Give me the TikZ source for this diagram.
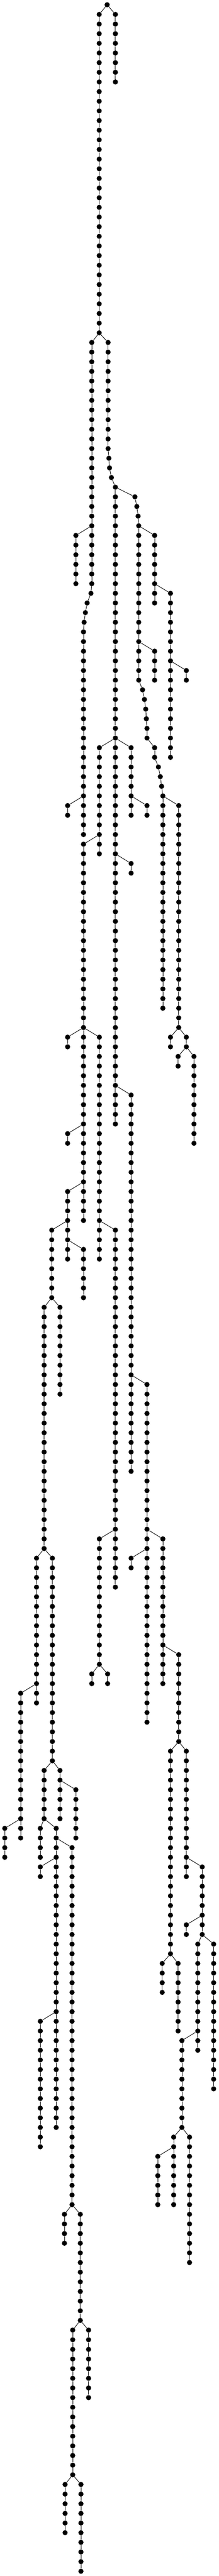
\documentclass[tikz,border=0pt]{standalone}
\begin{document}
\begin{tikzpicture}[x=0.16667pt, y=-10.1335pt,
    dot/.style={circle, fill=black, inner sep=0pt, minimum size=5.4pt},
    link/.style={line width=0.5pt}]
\useasboundingbox (0,-0.4934) rectangle (1377,266.4916);

\node[dot] (r-0) at (675,0) {};

% branch name / column / first level / last level / parent node
\foreach \nm/\u/\a/\b/\p in {
    A/625/1/34/r-0, B/727/1/8/r-0,
    C/578/35/60/A-34, C/573/61/61/C-60, C/549/62/62/C-61, C/538/63/63/C-62,
    C/530/64/64/C-63, C/526/65/86/C-64,
    D/478/55/60/C-54,
    E/681/35/46/A-34, E/686/47/47/E-46, E/690/48/48/E-47, E/702/49/49/E-48,
    E/727/50/116/E-49,
    F/850/51/51/E-50, F/862/52/52/F-51, F/870/53/53/F-52, F/874/54/70/F-53,
    F/898/71/71/F-70, F/910/72/72/F-71, F/918/73/73/F-72, F/922/74/74/F-73,
    F/926/75/76/F-74, F/974/77/78/F-76, F/998/79/79/F-78, F/1010/80/80/F-79,
    F/1018/81/81/F-80, F/1026/82/104/F-81,
    G/974/55/62/F-54, H/1074/61/78/G-60, I/1174/69/70/H-68, J/974/67/70/F-66,
    K/426/83/84/C-82, L/626/77/88/E-76, M/526/87/126/L-86, N/826/77/84/E-76,
    O/926/83/84/N-82, P/826/89/90/E-88, Q/1126/83/106/F-82,
    R/426/107/108/M-106, S/626/107/130/M-106, T/426/117/118/M-116,
    U/826/113/152/E-112, V/1074/107/108/Q-106, W/1174/107/108/Q-106,
    X/1122/109/110/W-108, Y/1222/109/118/W-108,
    Z/426/123/130/M-122, AA/326/127/134/Z-126, AB/526/129/134/Z-128,
    AC/727/127/164/S-126, AD/378/135/144/AA-134, AE/278/135/160/AA-134,
    AF/926/143/178/U-142, AG/230/161/176/AE-160, AH/330/161/182/AE-160,
    AI/626/159/172/AC-158, AJ/1026/159/174/AF-158, AK/826/161/162/AF-160,
    AL/130/175/190/AG-174, AM/30/189/192/AL-188,
    AN/378/183/188/AH-182, AO/478/185/190/AN-184, AP/278/183/188/AH-182,
    AQ/254/189/192/AP-188, AR/354/189/220/AP-188, AS/454/191/228/AR-190,
    AT/254/193/194/AR-192, AU/578/173/174/AI-172, AV/678/173/174/AI-172,
    AW/1126/171/180/AJ-170, AX/1074/181/202/AW-180, AY/1174/181/194/AW-180,
    AZ/1274/193/200/AY-192, BA/254/209/222/AR-208,
    BB/1022/203/206/AX-202, BC/1122/203/210/AX-202, BD/1174/199/200/AZ-198,
    BE/1246/201/212/AZ-200, BF/1346/201/216/AZ-200, BG/1146/211/220/BE-210,
    BH/406/229/232/AS-228, BI/506/229/240/AS-228,
    BJ/458/241/256/BI-240, BK/558/241/248/BI-240,
    BL/410/257/262/BJ-256, BM/510/257/266/BJ-256,
    BN/1094/221/228/BG-220, BO/1194/221/234/BG-220, BP/994/223/228/BN-222}
{
    \foreach \l in {\a,...,\b}
    {
        \node[dot] (\nm-\l) at (\u,\l) {};
        \ifnum\l=\a\relax
            \edef\prev{\p}
        \else
            \pgfmathtruncatemacro\q{\l-1}
            \edef\prev{\nm-\q}
        \fi
        \draw[link] (\prev)--(\nm-\l);
    }
}

\end{tikzpicture}
\end{document}
